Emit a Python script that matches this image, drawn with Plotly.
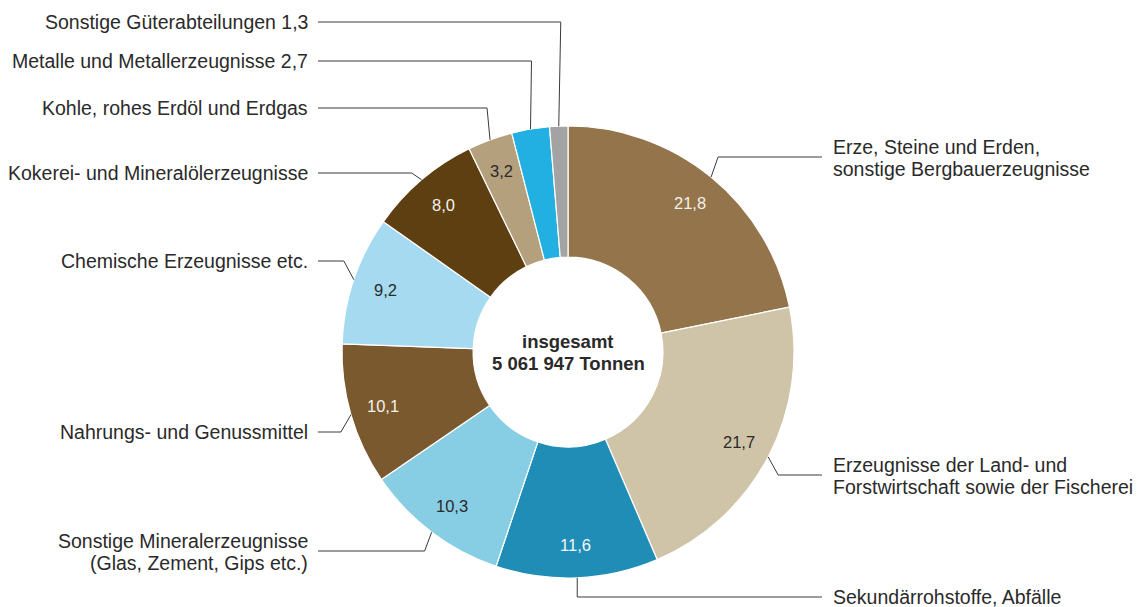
import math
import plotly.graph_objects as go

# ---- data ----
categories = [
    "Erze, Steine und Erden,<br>sonstige Bergbauerzeugnisse",
    "Erzeugnisse der Land- und<br>Forstwirtschaft sowie der Fischerei",
    "Sekundärrohstoffe, Abfälle",
    "Sonstige Mineralerzeugnisse<br>(Glas, Zement, Gips etc.)",
    "Nahrungs- und Genussmittel",
    "Chemische Erzeugnisse etc.",
    "Kokerei- und Mineralölerzeugnisse",
    "Kohle, rohes Erdöl und Erdgas",
    "Metalle und Metallerzeugnisse 2,7",
    "Sonstige Güterabteilungen 1,3",
]
values = [21.8, 21.7, 11.6, 10.3, 10.1, 9.2, 8.0, 3.2, 2.7, 1.3]
value_labels = ["21,8", "21,7", "11,6", "10,3", "10,1", "9,2", "8,0", "3,2", "", ""]
colors = ["#94744A", "#CFC3A8", "#208DB7", "#87CDE3", "#7A592E",
          "#A5DAF0", "#5E3F12", "#B5A07E", "#22B0E3", "#A3A3A3"]
value_text_colors = ["#F4F1EC", "#2A2A2A", "#F4F8FA", "#2A2A2A", "#F4F1EC",
                     "#2A2A2A", "#F4F1EC", "#2A2A2A", "#2A2A2A", "#2A2A2A"]
center_lines = ["insgesamt", "5 061 947 Tonnen"]

# ---- layout constants (screen pixels) ----
OFF = 8                      # default page body margin
W, H = 1142 - OFF, 607 - OFF
cx, cy, R = 568, 352, 226
hole = 0.42
label_r = 193
FONT = "Liberation Sans, Arial, sans-serif"
label_side = ["r", "r", "r", "l", "l", "l", "l", "l", "l", "l"]
label_y = [157, 475, 597, 551, 432, 261, 173, 108, 61, 22]
elbow_dx = [7, 10, 0, -7, -10, -10, -10, -3, 1, 2]
right_line_end, right_text_x = 822, 831
left_line_end, left_text_x = 318, 310
line_gap = 22

def px(x):
    return (x - OFF) / W

def py(y):
    return 1 - (y - OFF) / H

fig = go.Figure(go.Pie(
    values=values,
    labels=[c.replace("<br>", " ") for c in categories],
    sort=False,
    direction="clockwise",
    rotation=0,
    hole=hole,
    textinfo="none",
    hoverinfo="label+value",
    marker=dict(colors=colors, line=dict(color="white", width=1.2)),
    domain=dict(x=[px(cx - R), px(cx + R)], y=[py(cy + R), py(cy - R)]),
))

total = sum(values)
annotations = []
shapes = []
cum = 0.0
for i, v in enumerate(values):
    mid = (cum + v / 2) / total * 2 * math.pi
    cum += v
    sx, sy = math.sin(mid), -math.cos(mid)
    if value_labels[i]:
        annotations.append(dict(
            x=px(cx + label_r * sx), y=py(cy + label_r * sy),
            xref="paper", yref="paper", text=value_labels[i], showarrow=False,
            font=dict(size=16.5, color=value_text_colors[i], family=FONT),
            xanchor="center", yanchor="middle"))
    x0, y0 = cx + R * sx, cy + R * sy
    x1, y1 = x0 + elbow_dx[i], label_y[i]
    if label_side[i] == "r":
        x2, tx, anchor = right_line_end, right_text_x, "left"
    else:
        x2, tx, anchor = left_line_end, left_text_x, "right"
    shapes.append(dict(
        type="path", xref="paper", yref="paper",
        path=f"M {px(x0)},{py(y0)} L {px(x1)},{py(y1)} L {px(x2)},{py(y1)}",
        line=dict(color="#3A3A3A", width=1)))
    lines = categories[i].split("<br>")
    n = len(lines)
    for k, ln in enumerate(lines):
        ty = label_y[i] + (1 if n > 1 else 0) + (k - (n - 1) / 2) * line_gap
        annotations.append(dict(
            x=px(tx), y=py(ty), xref="paper", yref="paper",
            text=ln, showarrow=False, align=anchor,
            xanchor=anchor, yanchor="middle",
            font=dict(size=19.5, color="#2A2A2A", family=FONT)))

for k, ln in enumerate(center_lines):
    ty = cy + (k - 0.5) * line_gap
    annotations.append(dict(
        x=px(cx), y=py(ty), xref="paper", yref="paper", text=f"<b>{ln}</b>",
        showarrow=False, xanchor="center", yanchor="middle", align="center",
        font=dict(size=18.5, color="#2A2A2A", family=FONT)))

fig.update_layout(
    width=W, height=H,
    margin=dict(l=0, r=0, t=0, b=0),
    paper_bgcolor="white", plot_bgcolor="white",
    showlegend=False,
    annotations=annotations,
    shapes=shapes,
)

fig.write_html("out.html")
